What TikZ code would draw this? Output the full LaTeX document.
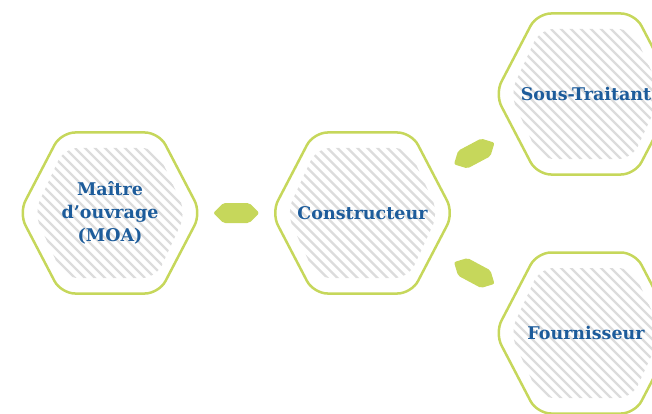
\documentclass[tikz,border=0pt]{standalone}
\usepackage{fontspec}
\setmainfont{DejaVu Serif}
\usetikzlibrary{shapes.symbols}
\usetikzlibrary{backgrounds}
\definecolor{vert}{HTML}{C6D75B}
\definecolor{bleu}{HTML}{1D5C9B}
\definecolor{raye}{HTML}{DCDCDC}
\tikzset{t/.style={font=\fontsize{17.5}{23}\selectfont\bfseries, text=bleu, align=center}}
\tikzset{lien/.style={signal, signal to=east and west, signal pointer angle=90, fill=vert, minimum width=46pt, minimum height=20pt, inner sep=0pt, rounded corners=2pt, sloped}}
\tikzset{hexa/.pic={
    \begin{scope}
      \clip[rounded corners=14pt] (-76,0) -- (-46,-65) -- (46,-65) -- (76,0) -- (46,65) -- (-46,65) -- cycle;
      \foreach \i in {-230,-220,...,230}
        \draw[raye, line width=2.2pt] (\i-100,-100) -- (\i+100,100);
    \end{scope}
    \draw[vert, line width=2.5pt, rounded corners=14pt] (-91,0) -- (-49,-80.5) -- (49,-80.5) -- (91,0) -- (49,80.5) -- (-49,80.5) -- cycle;
  }}

\begin{document}
\begin{tikzpicture}[x=1pt,y=-1pt]
  \clip (0,0) rectangle (652,414);
  \node[t] (moa) at (110,213) {Maître\\d’ouvrage\\(MOA)};
  \node[t] (cons) at (362.5,213) {Constructeur};
  \node[t] (st) at (586,94) {Sous-Traitant};
  \node[t] (four) at (586,333) {Fournisseur};
  \begin{scope}[on background layer]
    \foreach \n in {moa,cons,st,four}
      \pic at (\n) {hexa};
  \end{scope}
  \path (moa.center) -- node[lien] {} (cons.center);
  \path (cons.center) -- node[lien] {} (st.center);
  \path (cons.center) -- node[lien] {} (four.center);
\end{tikzpicture}
\end{document}
